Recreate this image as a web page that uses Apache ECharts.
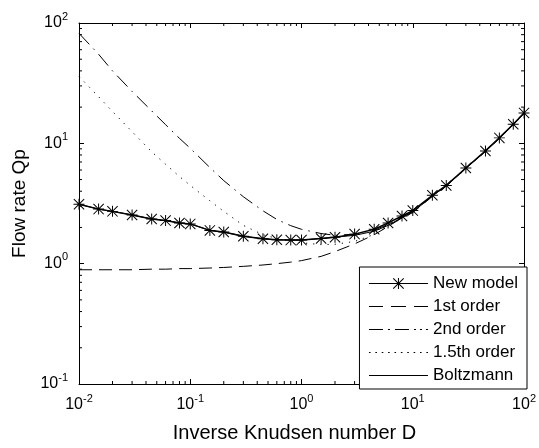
<!DOCTYPE html>
<html><head><meta charset="utf-8">
<script src="https://cdn.jsdelivr.net/npm/echarts@6/dist/echarts.min.js"></script>
<style>html,body{margin:0;padding:0;background:#fff}#c{width:539px;height:448px}</style>
</head><body><div id="c"></div>
<script>
// Inverse Knudsen number D (x) sample points
const xD = [0.01, 0.015, 0.02, 0.03, 0.045, 0.06, 0.08, 0.1, 0.15, 0.2, 0.3, 0.45, 0.6, 0.8, 1, 1.5, 2, 3, 4.5, 6, 8, 10, 15, 20, 30, 45, 60, 80, 100];
// Flow rate Qp values
const newModel  = [3.12, 2.84, 2.72, 2.54, 2.35, 2.28, 2.18, 2.14, 1.89, 1.83, 1.69, 1.61, 1.58, 1.57, 1.57, 1.62, 1.66, 1.76, 1.93, 2.18, 2.49, 2.76, 3.70, 4.47, 6.24, 8.65, 11.1, 14.4, 17.9];
const firstOrder = [0.89, 0.89, 0.89, 0.89, 0.90, 0.90, 0.91, 0.91, 0.92, 0.93, 0.95, 0.975, 1.0, 1.03, 1.06, 1.15, 1.26, 1.46, 1.74, 2.04, 2.40, 2.66, 3.62, 4.42, 6.2, 8.6, 11.0, 14.3, 17.8];
const secondOrder = [82, 55, 40, 27, 18.6, 14.3, 11.0, 9.1, 6.3, 4.9, 3.6, 2.75, 2.33, 2.07, 1.93, 1.78, 1.72, 1.76, 1.90, 2.12, 2.44, 2.70, 3.66, 4.44, 6.22, 8.62, 11.05, 14.35, 17.85];
const onePointFifth = [36, 24.4, 18.4, 12.5, 8.5, 6.7, 5.3, 4.47, 3.33, 2.72, 2.08, 1.74, 1.62, 1.55, 1.49, 1.44, 1.45, 1.53, 1.75, 2.05, 2.42, 2.68, 3.65, 4.44, 6.22, 8.62, 11.05, 14.35, 17.85];
const boltzmann = [3.12, 2.84, 2.72, 2.54, 2.35, 2.28, 2.18, 2.14, 1.89, 1.83, 1.69, 1.61, 1.58, 1.57, 1.57, 1.62, 1.66, 1.72, 1.86, 2.08, 2.42, 2.68, 3.66, 4.44, 6.22, 8.62, 11.05, 14.35, 17.85];
const seriesNames = ['New model', '1st order', '2nd order', '1.5th order', 'Boltzmann'];
// axis ranges / tick decades
const xDecades = [0.01, 0.1, 1, 10];
const yDecades = [0.1, 1, 10];
const minorMultipliers = [2, 3, 4, 5, 6, 7, 8, 9];

const xMinor = [], yMinor = [];
xDecades.forEach(d => minorMultipliers.forEach(m => xMinor.push(+(d * m).toPrecision(3))));
yDecades.forEach(d => minorMultipliers.forEach(m => yMinor.push(+(d * m).toPrecision(3))));

const pair = arr => xD.map((x, i) => [x, arr[i]]);
const FONT = 'Liberation Sans, Arial, Helvetica, sans-serif';
const asterisk = 'path://M9.1 0H10.9V20H9.1Z M0 9.1H20V10.9H0Z M1.3 0L20 18.7L18.7 20L0 1.3Z M18.7 0L20 1.3L1.3 20L0 18.7Z';

// legend line-sample icons (59 px wide, 1 px tall)
const seg = (a, b) => 'M' + a + ' 0H' + b + 'V1H' + a + 'Z ';
const iconSolid = 'path://' + seg(0, 59);
const iconDash = 'path://' + seg(0, 14) + seg(22, 37) + seg(45, 59);
const iconDashDot = 'path://' + seg(0, 14) + seg(19, 21) + seg(26, 40) + seg(45, 47) + seg(51, 53) + seg(57, 59);
let dots = '';
for (let p = 0; p <= 57; p += 6) dots += seg(p, p + 1.5);
const iconDot = 'path://' + dots;

const labelFmt = v => '{b|10}{e|' + Math.round(Math.log10(v)) + '}';
const rich = {
  b: {fontSize: 16, lineHeight: 24, fontFamily: FONT, color: '#000'},
  e: {fontSize: 11, lineHeight: 11, verticalAlign: 'top', fontFamily: FONT, color: '#000'}
};
const axLine = {show: true, lineStyle: {color: '#000', width: 1}};
const majTick = {show: true, inside: true, length: 5, lineStyle: {color: '#000', width: 1}};

const chart = echarts.init(document.getElementById('c'), null, {renderer: 'canvas'});
chart.setOption({
  backgroundColor: '#fff',
  animation: false,
  grid: {left: 79, right: 12, top: 23, bottom: 59, containLabel: false},
  xAxis: [
    {type: 'log', logBase: 10, min: 0.01, max: 100, position: 'bottom',
     axisLine: axLine, axisTick: majTick, splitLine: {show: false}, minorTick: {show: false},
     axisLabel: {formatter: labelFmt, rich: rich, margin: 9, showMinLabel: true, showMaxLabel: true},
     name: 'Inverse Knudsen number D', nameLocation: 'middle', nameGap: 39,
     nameTextStyle: {fontSize: 20, fontFamily: FONT, color: '#000', padding: [0, 14, 0, 0]}},
    {type: 'log', logBase: 10, min: 0.01, max: 100, position: 'top',
     axisLine: axLine, axisTick: majTick, axisLabel: {show: false}, splitLine: {show: false}}
  ],
  yAxis: [
    {type: 'log', logBase: 10, min: 0.1, max: 100, position: 'left',
     axisLine: axLine, axisTick: majTick, splitLine: {show: false},
     axisLabel: {formatter: labelFmt, rich: rich, margin: 11, showMinLabel: true, showMaxLabel: true},
     name: 'Flow rate Qp', nameLocation: 'middle', nameGap: 49,
     nameTextStyle: {fontSize: 19, fontFamily: FONT, color: '#000'}},
    {type: 'log', logBase: 10, min: 0.1, max: 100, position: 'right',
     axisLine: axLine, axisTick: majTick, axisLabel: {show: false}, splitLine: {show: false}}
  ],
  legend: {
    orient: 'vertical', right: 12, bottom: 59, z: 20,
    data: [
      {name: seriesNames[0], lineStyle: {width: 1}},
      {name: seriesNames[1], icon: iconDash},
      {name: seriesNames[2], icon: iconDashDot},
      {name: seriesNames[3], icon: iconDot},
      {name: seriesNames[4], icon: iconSolid}
    ],
    itemWidth: 59, itemHeight: 14, itemGap: 6,
    padding: [8, 9, 5, 9],
    backgroundColor: '#fff', borderColor: '#000', borderWidth: 1, borderRadius: 0,
    textStyle: {fontSize: 17, fontFamily: FONT, color: '#000', lineHeight: 14},
    selectedMode: false
  },
  series: [
    {name: 'New model', type: 'line', data: pair(newModel), symbol: asterisk, symbolSize: 11,
     itemStyle: {color: '#000'}, lineStyle: {color: '#000', width: 1.5}, z: 5},
    {name: '1st order', type: 'line', data: pair(firstOrder), showSymbol: false,
     lineStyle: {color: '#000', width: 1, type: [13, 7]}, itemStyle: {color: '#000'}},
    {name: '2nd order', type: 'line', data: pair(secondOrder), showSymbol: false,
     lineStyle: {color: '#000', width: 1, type: [15, 6, 1.5, 6]}, itemStyle: {color: '#000'}},
    {name: '1.5th order', type: 'line', data: pair(onePointFifth), showSymbol: false,
     lineStyle: {color: '#000', width: 1, type: [1.2, 6]}, itemStyle: {color: '#000'}},
    {name: 'Boltzmann', type: 'line', data: pair(boltzmann), showSymbol: false,
     lineStyle: {color: '#000', width: 1}, itemStyle: {color: '#000'}},
    {type: 'custom', silent: true, clip: false, z: 3,
     data: xMinor.map(v => [v, 0.1]),
     renderItem: (params, api) => {
       const v = api.value(0);
       const b = api.coord([v, 0.1]), t = api.coord([v, 100]);
       return {type: 'group', children: [
         {type: 'line', shape: {x1: b[0], y1: b[1], x2: b[0], y2: b[1] - 3}, style: {stroke: '#000', lineWidth: 1}},
         {type: 'line', shape: {x1: t[0], y1: t[1], x2: t[0], y2: t[1] + 3}, style: {stroke: '#000', lineWidth: 1}}
       ]};
     }},
    {type: 'custom', silent: true, clip: false, z: 3,
     data: yMinor.map(v => [0.01, v]),
     renderItem: (params, api) => {
       const v = api.value(1);
       const l = api.coord([0.01, v]), r = api.coord([100, v]);
       return {type: 'group', children: [
         {type: 'line', shape: {x1: l[0], y1: l[1], x2: l[0] + 3, y2: l[1]}, style: {stroke: '#000', lineWidth: 1}},
         {type: 'line', shape: {x1: r[0], y1: r[1], x2: r[0] - 3, y2: r[1]}, style: {stroke: '#000', lineWidth: 1}}
       ]};
     }}
  ]
});
</script></body></html>
